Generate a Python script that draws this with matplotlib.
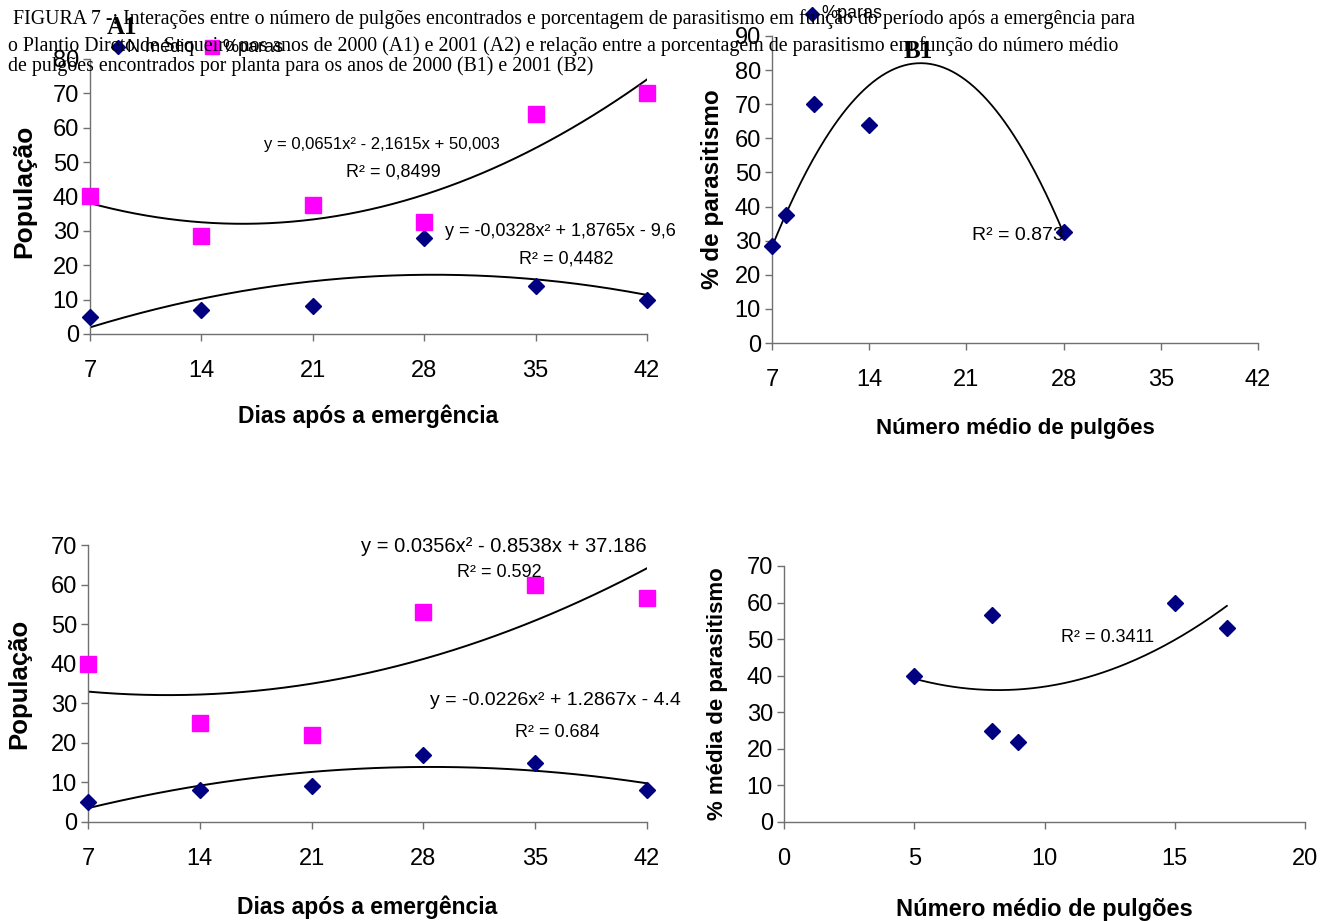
import numpy as np
import matplotlib
matplotlib.use("Agg")
import matplotlib.pyplot as plt

# Dados
dias = [7, 14, 21, 28, 35, 42]

# 2000 (A1)
n_medio_2000 = [5, 7, 8, 28, 14, 10]
paras_2000 = [40, 28.5, 37.5, 32.5, 64, 70]
coef_paras_2000 = [0.0651, -2.1615, 50.003]
coef_nmedio_2000 = [-0.0328, 1.8765, -9.6]
coef_b1 = [-0.47, 16.64, -65.25]

# 2001 (A2)
n_medio_2001 = [5, 8, 9, 17, 15, 8]
paras_2001 = [40, 25, 22, 53, 60, 56.5]
coef_paras_2001 = [0.0356, -0.8538, 37.186]
coef_nmedio_2001 = [-0.0226, 1.2867, -4.4]

W, H = 1333, 921
NAVY = "#000080"
MAGENTA = "#FF00FF"
TICK_FONT = ["Liberation Sans", "DejaVu Sans"]
SANS = ["Liberation Sans", "DejaVu Sans"]
SERIF = ["Liberation Serif", "DejaVu Serif"]

fig = plt.figure(figsize=(W / 100, H / 100), dpi=100)


def eixo(left, right, top, bottom):
    # posiciona o eixo em pixels da imagem
    ax = fig.add_axes([left / W, 1 - bottom / H, (right - left) / W, (bottom - top) / H])
    for lado in ["top", "right"]:
        ax.spines[lado].set_visible(False)
    for lado in ["left", "bottom"]:
        ax.spines[lado].set_color("#707070")
        ax.spines[lado].set_linewidth(1)
    ax.tick_params(direction="out", length=5, width=1, color="#707070")
    ax.tick_params(axis="x", pad=14)
    ax.tick_params(axis="y", pad=3)
    return ax


def rotulos(ax, size=17):
    for t in ax.get_xticklabels() + ax.get_yticklabels():
        t.set_family(TICK_FONT)
        t.set_fontsize(size)


def nota(x, y, s, size=13, ha="center"):
    fig.text(x / W, 1 - y / H, s, fontsize=size, family=TICK_FONT, ha=ha, va="center")


# ---------- A1 ----------
ax1 = eixo(90, 647, 59, 334)
xs = np.linspace(7, 42, 200)
ax1.plot(xs, np.polyval(coef_paras_2000, xs), color="black", lw=1.4)
ax1.plot(xs, np.polyval(coef_nmedio_2000, xs), color="black", lw=1.4)
ax1.plot(dias, n_medio_2000, "D", color=NAVY, ms=8, clip_on=False, zorder=5)
ax1.plot(dias, paras_2000, "s", color=MAGENTA, ms=11, clip_on=False, zorder=5)
ax1.set_xlim(7, 42)
ax1.set_ylim(0, 80)
ax1.set_xticks(dias)
ax1.set_yticks(range(0, 81, 10))
rotulos(ax1)
ax1.set_ylabel("População", fontsize=19, fontweight="bold", family=SANS)
ax1.yaxis.set_label_coords(-0.097, 0.52)
ax1.set_xlabel("Dias após a emergência", fontsize=16.5, fontweight="bold", family=SANS, labelpad=16)

# ---------- B1 ----------
ax2 = eixo(772, 1258, 36, 343)
nm = np.array(n_medio_2000)
pp = np.array(paras_2000)
vis = nm >= 7
xb = np.linspace(nm[vis].min(), nm[vis].max(), 200)
ax2.plot(xb, np.polyval(coef_b1, xb), color="black", lw=1.3)
ax2.plot(nm[vis], pp[vis], "D", color=NAVY, ms=8, clip_on=False, zorder=5)
ax2.set_xlim(7, 42)
ax2.set_ylim(0, 90)
ax2.set_xticks(dias)
ax2.set_yticks(range(0, 91, 10))
rotulos(ax2)
ax2.set_ylabel("% de parasitismo", fontsize=17.5, fontweight="bold", family=SANS)
ax2.yaxis.set_label_coords(-0.099, 0.5)
ax2.set_xlabel("Número médio de pulgões", fontsize=16, fontweight="bold", family=SANS, labelpad=19)

# ---------- A2 ----------
ax3 = eixo(88, 647, 545, 822)
ax3.plot(xs, np.polyval(coef_paras_2001, xs), color="black", lw=1.4)
ax3.plot(xs, np.polyval(coef_nmedio_2001, xs), color="black", lw=1.4)
ax3.plot(dias, n_medio_2001, "D", color=NAVY, ms=8, clip_on=False, zorder=5)
ax3.plot(dias, paras_2001, "s", color=MAGENTA, ms=11, clip_on=False, zorder=5)
ax3.set_xlim(7, 42)
ax3.set_ylim(0, 70)
ax3.set_xticks(dias)
ax3.set_yticks(range(0, 71, 10))
rotulos(ax3)
ax3.set_ylabel("População", fontsize=18.5, fontweight="bold", family=SANS)
ax3.yaxis.set_label_coords(-0.102, 0.5)
ax3.set_xlabel("Dias após a emergência", fontsize=16.5, fontweight="bold", family=SANS, labelpad=18)

# ---------- B2 ----------
ax4 = eixo(784, 1305, 566, 822)
nm2 = np.array(n_medio_2001)
pp2 = np.array(paras_2001)
coef_b2 = np.polyfit(nm2, pp2, 2)
xb2 = np.linspace(nm2.min(), nm2.max(), 200)
ax4.plot(xb2, np.polyval(coef_b2, xb2), color="black", lw=1.3)
ax4.plot(nm2, pp2, "D", color=NAVY, ms=8, clip_on=False, zorder=5)
ax4.set_xlim(0, 20)
ax4.set_ylim(0, 70)
ax4.set_xticks(range(0, 21, 5))
ax4.set_yticks(range(0, 71, 10))
rotulos(ax4)
ax4.set_ylabel("% média de parasitismo", fontsize=16, fontweight="bold", family=SANS)
ax4.yaxis.set_label_coords(-0.107, 0.5)
ax4.set_xlabel("Número médio de pulgões", fontsize=17, fontweight="bold", family=SANS, labelpad=20)

# ---------- equações (posições em pixels) ----------
nota(382, 144, "y = 0,0651x² - 2,1615x + 50,003", size=12)
nota(393, 172, "R² = 0,8499", size=13)
nota(445, 231, "y = -0,0328x² + 1,8765x - 9,6", size=13, ha="left")
nota(566, 259, "R² = 0,4482", size=13)
nota(1018, 236, "R² = 0.873", size=14)
nota(504, 546, "y = 0.0356x² - 0.8538x + 37.186", size=14.5)
nota(499, 572, "R² = 0.592", size=13)
nota(430, 700, "y = -0.0226x² + 1.2867x - 4.4", size=14, ha="left")
nota(557, 732, "R² = 0.684", size=13)
nota(1108, 637, "R² = 0.3411", size=13)

# ---------- título e legendas ----------
linhas = [
    " FIGURA 7 -: Interações entre o número de pulgões encontrados e porcentagem de parasitismo em função do período após a emergência para",
    "o Plantio Direto de Sequeiro nos anos de 2000 (A1) e 2001 (A2) e relação entre a porcentagem de parasitismo em função do número médio",
    "de pulgões encontrados por planta para os anos de 2000 (B1) e 2001 (B2)",
]
for y, s in zip([19, 46, 66], linhas):
    fig.text(8 / W, 1 - y / H, s, fontsize=14.3, family=SERIF, ha="left", va="center")

fig.text(122 / W, 1 - 28 / H, "A1", fontsize=18, fontweight="bold", family=SERIF, ha="center", va="center")
fig.text(918 / W, 1 - 52 / H, "B1", fontsize=18, fontweight="bold", family=SERIF, ha="center", va="center")

# legenda A1
fig.lines.append(plt.Line2D([118 / W], [1 - 47 / H], marker="D", color=NAVY, ms=7, transform=fig.transFigure))
nota(127, 47, "N médio", size=13, ha="left")
fig.lines.append(plt.Line2D([212 / W], [1 - 47 / H], marker="s", color=MAGENTA, ms=10, transform=fig.transFigure))
nota(222, 47, "%paras", size=13, ha="left")
# legenda B1
fig.lines.append(plt.Line2D([812 / W], [1 - 14 / H], marker="D", color=NAVY, ms=7, transform=fig.transFigure))
nota(821, 14, "%paras", size=13, ha="left")

fig.savefig("out.png", dpi=100)
